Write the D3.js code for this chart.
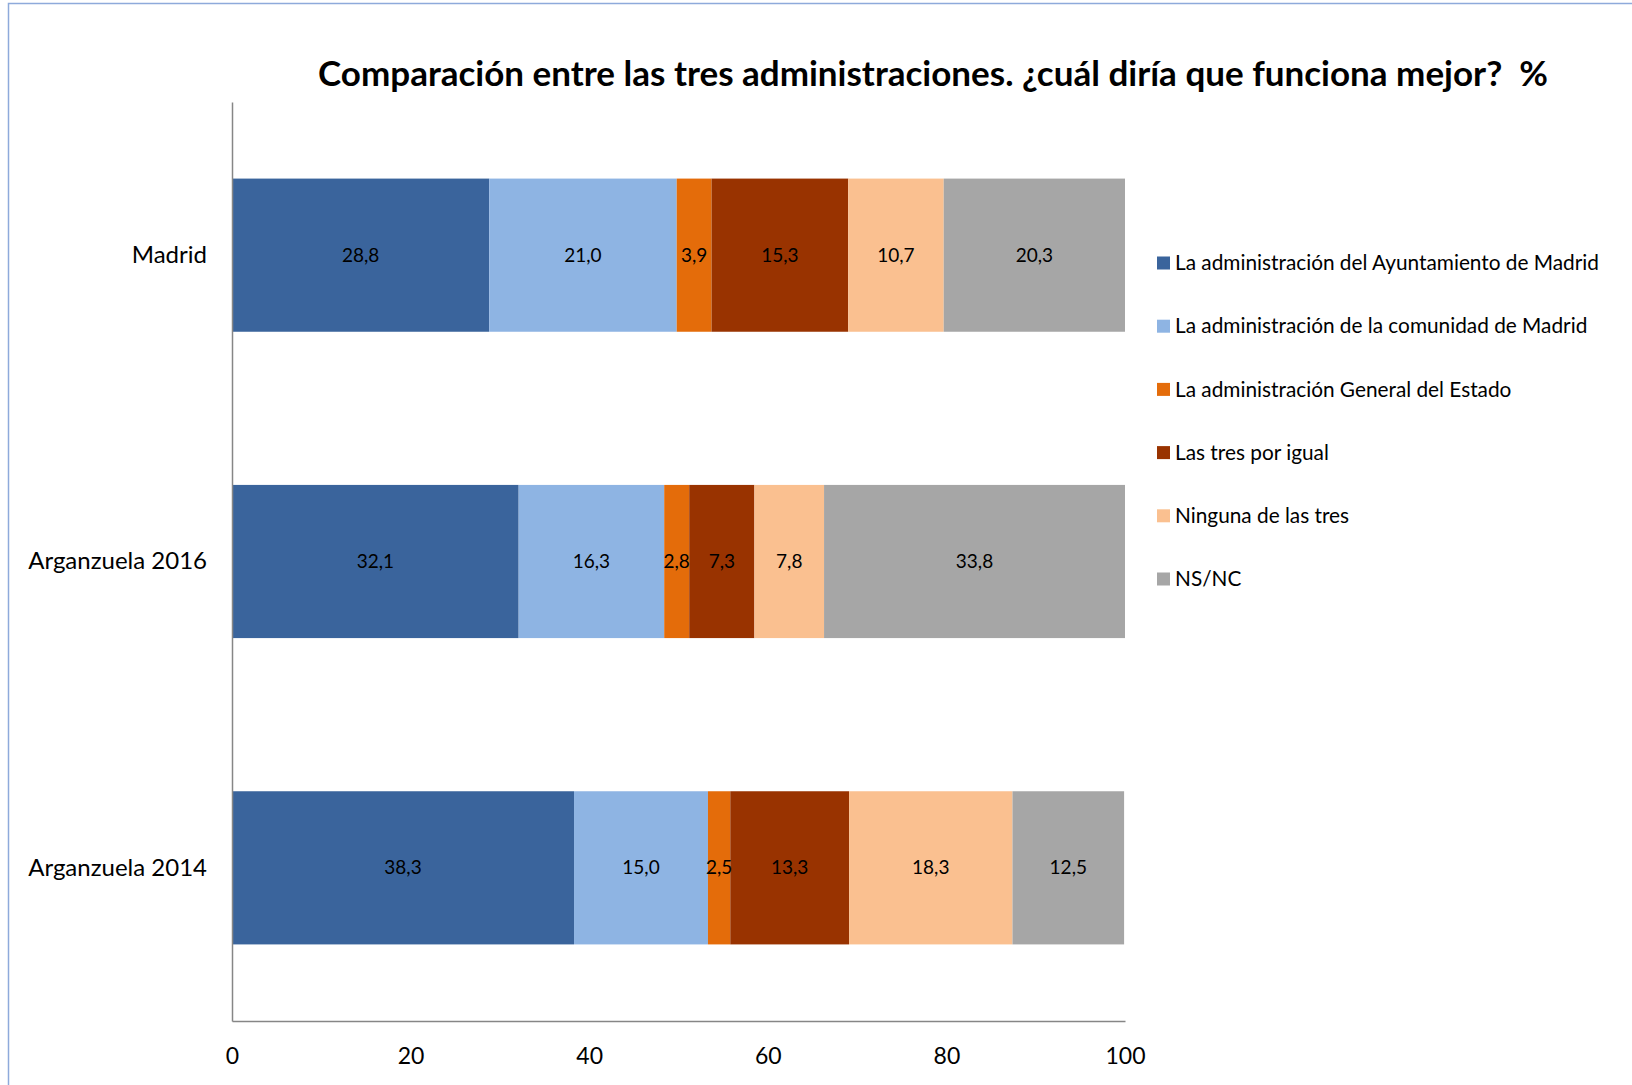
<!DOCTYPE html>
<html><head><meta charset="utf-8">
<script src="https://cdn.jsdelivr.net/npm/d3@7"></script>
<style>
html,body{margin:0;padding:0;background:#fff;}
svg{display:block;font-family:Lato,"Open Sans",sans-serif;}
</style></head>
<body>
<svg id="chart" width="1632" height="1085"></svg>
<script>
const categories = ["Madrid", "Arganzuela 2016", "Arganzuela 2014"];
const seriesNames = [
  "La administración del Ayuntamiento de Madrid",
  "La administración de la comunidad de Madrid",
  "La administración General del Estado",
  "Las tres por igual",
  "Ninguna de las tres",
  "NS/NC"
];
const ayuntamiento = [28.8, 32.1, 38.3];
const comunidad    = [21.0, 16.3, 15.0];
const estado       = [3.9, 2.8, 2.5];
const tresIgual    = [15.3, 7.3, 13.3];
const ninguna      = [10.7, 7.8, 18.3];
const nsnc         = [20.3, 33.8, 12.5];
const xTicks = [0, 20, 40, 60, 80, 100];
const title = "Comparación entre las tres administraciones. ¿cuál diría que funciona mejor?  %";

const colors = ["#3A649C", "#8EB4E3", "#E46C0A", "#993300", "#FAC090", "#A6A6A6"];
const seriesVals = [ayuntamiento, comunidad, estado, tresIgual, ninguna, nsnc];

const rows = categories.map((c, i) => {
  const r = {cat: c};
  seriesNames.forEach((s, j) => r[s] = seriesVals[j][i]);
  return r;
});

const svg = d3.select("#chart");

// outer chart border
svg.append("rect").attr("x", 8.5).attr("y", 3.5).attr("width", 1700).attr("height", 1200)
  .attr("fill", "none").attr("stroke", "#8EAADB").attr("stroke-width", 1.5);

const L = 232, R = 1125, T = 102, B = 1021;
const x = d3.scaleLinear().domain([0, 100]).range([L, R]);
const y = d3.scaleBand().domain(categories).range([T, B]).paddingInner(0.5).paddingOuter(0.25);

const stacked = d3.stack().keys(seriesNames)(rows);

svg.append("clipPath").attr("id", "plotclip").append("rect")
  .attr("x", L).attr("y", T).attr("width", R - L).attr("height", B - T);

const g = svg.append("g").attr("clip-path", "url(#plotclip)");
stacked.forEach((layer, j) => {
  g.selectAll(null).data(layer).enter().append("rect")
    .attr("x", d => x(d[0]))
    .attr("y", d => y(d.data.cat))
    .attr("width", d => Math.max(0, Math.min(x(d[1]), R) - x(d[0])))
    .attr("height", y.bandwidth())
    .attr("fill", colors[j]);
});

const fmt = v => d3.format(".1f")(v).replace(".", ",");
stacked.forEach((layer, j) => {
  svg.selectAll(null).data(layer).enter().append("text")
    .attr("x", d => (x(d[0]) + Math.min(x(d[1]), R)) / 2)
    .attr("y", d => y(d.data.cat) + y.bandwidth() / 2)
    .attr("dy", "0.35em")
    .attr("text-anchor", "middle")
    .attr("font-size", 19)
    .attr("fill", "#000")
    .text(d => fmt(d[1] - d[0]));
});

// axes
const xAxis = d3.axisBottom(x).tickValues(xTicks).tickSize(0).tickPadding(27).tickFormat(d3.format("d"));
const gx = svg.append("g").attr("transform", `translate(0,${B})`).call(xAxis);
gx.select(".domain").attr("stroke", "#868686").attr("stroke-width", 1.5);
gx.selectAll("text").attr("font-size", 23).attr("fill", "#000").attr("font-family", "Lato");

const yAxis = d3.axisLeft(y).tickSize(0).tickPadding(25);
const gy = svg.append("g").attr("transform", `translate(${L},0)`).call(yAxis);
gy.select(".domain").attr("stroke", "#868686").attr("stroke-width", 1.5);
gy.selectAll("text").attr("font-size", 24).attr("fill", "#000").attr("font-family", "Lato");

// title
svg.append("text").attr("x", 933).attr("y", 86).attr("text-anchor", "middle")
  .style("white-space", "pre")
  .attr("font-size", 35).attr("font-weight", "bold").attr("fill", "#000").text(title);

// legend
const leg = svg.append("g");
const legY = d3.scalePoint().domain(seriesNames).range([263, 579]);
seriesNames.forEach((s, j) => {
  leg.append("rect").attr("x", 1157).attr("y", legY(s) - 6.5).attr("width", 13).attr("height", 13).attr("fill", colors[j]);
  leg.append("text").attr("x", 1175).attr("y", legY(s)).attr("dy", "0.35em")
    .attr("font-size", 20.8).attr("fill", "#000").text(s);
});
</script>
</body></html>
